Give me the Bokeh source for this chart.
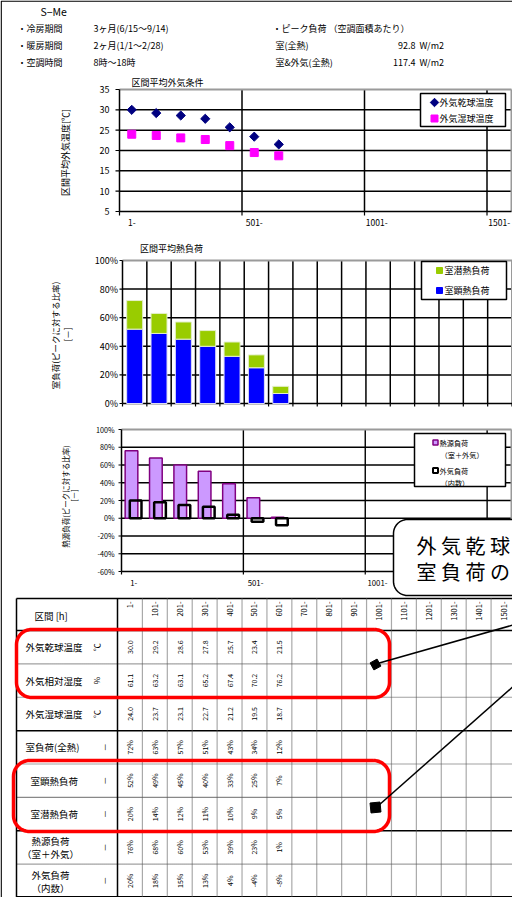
import numpy as np
from bokeh.plotting import figure
from bokeh.models import Range1d
from bokeh.core.properties import value
from bokeh.embed import file_html
from bokeh.resources import INLINE

# ---------------- data ----------------
interval_labels = ["1-", "101-", "201-", "301-", "401-", "501-", "601-", "701-",
                   "801-", "901-", "1001-", "1101-", "1201-", "1301-", "1401-", "1501-"]
interval_start = [0, 100, 200, 300, 400, 500, 600]          # hours (start of each 100 h bin)
dry_bulb = [30.0, 29.2, 28.6, 27.8, 25.7, 23.4, 21.5]       # ℃
rel_humidity = [61.1, 63.2, 63.1, 65.2, 67.4, 70.2, 76.2]   # %
wet_bulb = [24.0, 23.7, 23.1, 22.7, 21.2, 19.5, 18.7]       # ℃
room_total = [72, 63, 57, 51, 43, 34, 12]                   # % of peak
room_sensible = [52, 49, 45, 40, 33, 25, 7]
room_latent = [20, 14, 12, 11, 10, 9, 5]
source_load = [76, 68, 60, 53, 39, 23, 1]
outdoor_load = [20, 18, 15, 13, 4, -4, -8]
temp_ticks = [5, 10, 15, 20, 25, 30, 35]
room_ticks = [0, 20, 40, 60, 80, 100]
source_ticks = [-60, -40, -20, 0, 20, 40, 60, 80, 100]
hour_ticks = [0, 500, 1000, 1500]
hour_tick_labels = ["1-", "501-", "1001-", "1501-"]
peak_room = 92.8
peak_room_oa = 117.4
row_names = ["外気乾球温度", "外気相対湿度", "外気湿球温度", "室負荷(全熱)",
             "室顕熱負荷", "室潜熱負荷", "熱源負荷|（室＋外気）", "外気負荷|（内数）"]
row_units = ["℃", "%", "℃", "－", "－", "－", "－", "－"]

JP = value("Noto Sans CJK JP")
PX0, PX1, PY0, PY1 = 8, 520, 8, 905

p = figure(width=PX1 - PX0, height=PY1 - PY0,
           x_range=Range1d(PX0, PX1), y_range=Range1d(PY1, PY0),
           x_axis_type=None, y_axis_type=None, output_backend="svg",
           toolbar_location=None, min_border=0)
p.outline_line_color = None
p.background_fill_color = "white"
p.border_fill_color = "white"


def lin(d0, p0, d1, p1, lo, hi):
    k = (d1 - d0) / (p1 - p0)
    return Range1d(start=d0 + (lo - p0) * k, end=d0 + (hi - p0) * k)


def xr(d0, p0, d1, p1):
    return lin(d0, p0, d1, p1, PX0, PX1)


def yr(d0, p0, d1, p1):
    return lin(d0, p0, d1, p1, PY1, PY0)


p.extra_x_ranges = {"c1x": xr(0, 127, 1600, 519), "c2x": xr(0, 130, 1600, 519.5),
                    "c3x": xr(0, 129, 1600, 519), "tx": xr(0, 125, 16, 523.5)}
p.extra_y_ranges = {"c1y": yr(5, 219, 35, 97), "c2y": yr(0, 411, 100, 268),
                    "c3y": yr(-60, 579, 100, 437), "ty": yr(0, 638, 8, 905)}
k1x, k1y = 1600 / (519 - 127), 30 / (219 - 97)
k2x, k2y = 1600 / (519.5 - 130), 100 / (411 - 268)
k3x, k3y = 1600 / (519 - 129), 160 / (579 - 437)


def _bc(*args):
    n = max(len(a) if isinstance(a, (list, tuple)) else 1 for a in args)
    return [list(a) if isinstance(a, (list, tuple)) else [a] * n for a in args]


def seg(x0, y0, x1, y1, xn="default", yn="default", color="black", w=1.0, dash="solid"):
    x0, y0, x1, y1 = _bc(x0, y0, x1, y1)
    p.segment(x0=x0, y0=y0, x1=x1, y1=y1, x_range_name=xn, y_range_name=yn,
              line_color=color, line_width=w, line_dash=dash)


def txt(x, y, s, size, xn="default", yn="default", align="left", angle=0.0,
        color="black", base="middle"):
    x, y, s = _bc(x, y, s)
    p.text(x=x, y=y, text=s, x_range_name=xn, y_range_name=yn, text_font=JP,
           text_font_size=value(f"{size}px"), text_align=align, text_baseline=base,
           angle=angle, text_color=color)


def rrect(x0, y0, x1, y1, r, n=14):
    xs, ys = [], []
    for cx, cy, a0 in [(x1 - r, y0 + r, -90), (x1 - r, y1 - r, 0),
                       (x0 + r, y1 - r, 90), (x0 + r, y0 + r, 180)]:
        for a in np.linspace(a0, a0 + 90, n):
            xs.append(cx + r * np.cos(np.radians(a)))
            ys.append(cy + r * np.sin(np.radians(a)))
    xs.append(xs[0]); ys.append(ys[0])
    return xs, ys


GRAY = "#9a9a9a"
VPI = np.pi / 2

# ---------------- header ----------------
txt(48, 19, "S−Me", 10.5)
txt(25, 36, "・冷房期間", 9); txt(101, 36, "3ヶ月(6/15～9/14)", 9)
txt(25, 53, "・暖房期間", 9); txt(101, 53, "2ヶ月(1/1～2/28)", 9)
txt(25, 70, "・空調時間", 9); txt(101, 70, "8時～18時", 9)
txt(280, 36, "・ピーク負荷 （空調面積あたり）", 9)
txt(283, 53, "室(全熱)", 9); txt(423, 53, f"{peak_room:.1f}", 9, align="right"); txt(427, 53, "W/m2", 9)
txt(283, 70, "室&外気(全熱)", 9); txt(423, 70, f"{peak_room_oa:.1f}", 9, align="right"); txt(427, 70, "W/m2", 9)

# ---------------- chart 1: outdoor temperatures ----------------
c1 = dict(xn="c1x", yn="c1y")
seg(0, temp_ticks[1:-1], 1600, temp_ticks[1:-1], w=1.5, **c1)
seg(hour_ticks[1:], 5, hour_ticks[1:], 35, w=1.5, **c1)
seg(0, 35, 1600, 35, color=GRAY, w=2, **c1)
seg(1600, 5, 1600, 35, color=GRAY, w=2, **c1)
seg(0, 5, 0, 35, w=1.5, **c1)
seg(0, 5, 1600, 5, w=1.5, **c1)
seg(0, temp_ticks, -4 * k1x, temp_ticks, w=1.2, **c1)
seg(hour_ticks, 5, hour_ticks, 5 - 4 * k1y, w=1.2, **c1)
txt(-10 * k1x, temp_ticks, [str(t) for t in temp_ticks], 9, align="right", **c1)
txt([t + 50 for t in hour_ticks], 5 - 11 * k1y, hour_tick_labels, 8.5, align="center", **c1)
mid = [s + 50 for s in interval_start]
p.scatter(mid, wet_bulb, marker="square", size=8, fill_color="#FF00FF", line_color="#FF00FF",
          x_range_name="c1x", y_range_name="c1y")
p.scatter(mid, dry_bulb, marker="square", angle=np.pi / 4, size=6.5, fill_color="#000080",
          line_color="#000080", x_range_name="c1x", y_range_name="c1y")
txt(175, 90, "区間平均外気条件", 9, align="center")
txt(73, 160, "区間平均外気温度[℃]", 9, align="center", angle=VPI)
p.quad(left=428, right=513, top=101, bottom=134, fill_color="white", line_color="black", line_width=1.5)
p.scatter([442], [110], marker="square", angle=np.pi / 4, size=6, fill_color="#000080", line_color="#000080")
p.scatter([442], [126], marker="square", size=7, fill_color="#FF00FF", line_color="#FF00FF")
txt(447, 110, "外気乾球温度", 9)
txt(447, 126, "外気湿球温度", 9)

# ---------------- chart 2: room load ----------------
c2 = dict(xn="c2x", yn="c2y")
cat_edges = list(range(0, 1700, 100))
seg(cat_edges[1:-1], 0, cat_edges[1:-1], 100, w=1.5, **c2)
seg(0, room_ticks[1:-1], 1600, room_ticks[1:-1], w=1.5, **c2)
seg(0, 100, 1600, 100, color=GRAY, w=2, **c2)
seg(1600, 0, 1600, 100, color=GRAY, w=2, **c2)
seg(0, 0, 0, 100, w=1.5, **c2)
seg(0, 0, 1600, 0, w=1.5, **c2)
seg(0, room_ticks, -3 * k2x, room_ticks, w=1.2, **c2)
seg(cat_edges, 0, cat_edges, -3 * k2y, w=1.2, **c2)
txt(-4.5 * k2x, room_ticks, [f"{t}%" for t in room_ticks], 9, align="right", **c2)
room_top = [s + l for s, l in zip(room_sensible, room_latent)]
p.vbar(x=mid, width=16 * k2x, bottom=0, top=room_sensible, fill_color="#0000FF",
       line_color="#dcdcf4", line_width=1, x_range_name="c2x", y_range_name="c2y")
p.vbar(x=mid, width=16 * k2x, bottom=room_sensible, top=room_top, fill_color="#99CC00",
       line_color="#e4efcc", line_width=1, x_range_name="c2x", y_range_name="c2y")
txt(179, 256, "区間平均熱負荷", 9, align="center")
txt(62, 343, "室負荷(ピークに対する比率)", 8.5, align="center", angle=VPI)
txt(74, 342, "[－]", 8.5, align="center", angle=VPI)
p.quad(left=429, right=514, top=269, bottom=307, fill_color="white", line_color="black", line_width=1.5)
p.scatter([447], [278], marker="square", size=6, fill_color="#99CC00", line_color="#99CC00")
p.scatter([447], [298], marker="square", size=6, fill_color="#0000FF", line_color="#0000FF")
txt(452, 278, "室潜熱負荷", 9)
txt(452, 298, "室顕熱負荷", 9)

# ---------------- chart 3: source load ----------------
c3 = dict(xn="c3x", yn="c3y")
seg(0, source_ticks[1:-1], 1600, source_ticks[1:-1], w=1.3, **c3)
seg(hour_ticks[1:], -60, hour_ticks[1:], 100, w=1.4, **c3)
seg(0, 100, 1600, 100, color=GRAY, w=2, **c3)
seg(1600, -60, 1600, 100, color=GRAY, w=2, **c3)
seg(0, -60, 0, 100, w=1.5, **c3)
seg(0, -60, 1600, -60, w=1.5, **c3)
seg(0, source_ticks, -3 * k3x, source_ticks, w=1.2, **c3)
seg(hour_ticks, -60, hour_ticks, -60 - 3 * k3y, w=1.2, **c3)
txt(-7 * k3x, source_ticks, [f"{t}%" for t in source_ticks], 7.2, align="right", **c3)
txt([t + 50 for t in hour_ticks[:3]], -60 - 11 * k3y, hour_tick_labels[:3], 7.8, align="center", **c3)
p.vbar(x=[s + 41 for s in interval_start], width=52, bottom=0, top=source_load,
       fill_color="#CC99FF", line_color="#800080", line_width=1.5,
       x_range_name="c3x", y_range_name="c3y")
p.vbar(x=[s + 58 for s in interval_start], width=48, bottom=0, top=outdoor_load,
       fill_color=None, line_color="black", line_width=2.5,
       x_range_name="c3x", y_range_name="c3y")
txt(73, 504, "熱源負荷(ピークに対する比率)", 7.5, align="center", angle=VPI)
txt(81, 503, "[－]", 7.5, align="center", angle=VPI)
p.quad(left=422, right=513, top=441, bottom=494, fill_color="white", line_color="black", line_width=1.5)
p.scatter([443], [450], marker="square", size=5, fill_color="#CC99FF", line_color="#800080", line_width=1.5)
p.scatter([443], [478], marker="square", size=5, fill_color="white", line_color="black", line_width=2)
txt(447, 450, "熱源負荷", 7.2)
txt(448, 462, "（室＋外気）", 7.2)
txt(447, 478, "外気負荷", 7.2)
txt(448, 490, "（内数）", 7.2)

# callout box
cx, cy = rrect(401, 527, 570, 603, 14)
p.patch(cx, cy, fill_color="white", line_color="black", line_width=1.5)
txt(424, 553, "外 気 乾 球", 20)
txt(424, 579, "室 負 荷 の", 20)

# ---------------- table ----------------
row_styles = [("black", 1.5, "solid"), ("#444444", 1.2, "1 1"), ("#444444", 1.2, "1 1"),
              ("black", 1.5, "solid"), ("#444444", 1.2, "1 1"), ("#888888", 1.3, "solid"),
              ("black", 1.5, "solid"), ("#444444", 1.2, "1 1")]
for k, (col, w, d) in enumerate(row_styles):
    seg(24, k, 528, k, yn="ty", color=col, w=w, dash=d)
seg(24, 606, 528, 606, w=1.5)
seg(24, 904.2, 528, 904.2, w=1.6)
seg(24, 606, 24, 905, w=1.5)
seg(0, 606, 0, 905, xn="tx", w=1.5)
seg(list(range(1, 17)), 606, list(range(1, 17)), 905, xn="tx", color="#555555", w=1.2, dash="1 1")

# red highlight frames
for (x0, y0, x1, y1, r) in [(24, 637, 397, 705, 15), (21, 768, 397, 839, 16)]:
    hx, hy = rrect(x0, y0, x1, y1, r)
    p.line(hx, hy, line_color="#FF0000", line_width=3.5)

# header row
txt(42, 623, "区間 [h]", 9.5)
txt([c + 0.5 for c in range(16)], 609, interval_labels, 7.5, xn="tx", align="right", angle=VPI)

table_values = [[f"{v:.1f}" for v in dry_bulb], [f"{v:.1f}" for v in rel_humidity],
                [f"{v:.1f}" for v in wet_bulb], [f"{v}%" for v in room_total],
                [f"{v}%" for v in room_sensible], [f"{v}%" for v in room_latent],
                [f"{v}%" for v in source_load], [f"{v}%" for v in outdoor_load]]
for r, vals in enumerate(table_values):
    txt([c + 0.5 for c in range(len(vals))], r + 0.5, vals, 7, xn="tx", yn="ty",
        align="center", angle=VPI)

for r, (name, unit) in enumerate(zip(row_names, row_units)):
    if "|" in name:
        a, b = name.split("|")
        txt(58, r + 0.32, a, 9.5, yn="ty", align="center")
        txt(58, r + 0.71, b, 9.5, yn="ty", align="center")
    elif r in (4, 5):
        txt(38, r + 0.5, name, 9.5, yn="ty")
    else:
        txt(33, r + 0.5, name, 9.5, yn="ty")
    txt(112 if unit == "－" else 104, r + 0.5, unit, 8, yn="ty", align="center", angle=VPI)

# pointer arrows from the callout
p.line([540, 385], [627, 671], line_color="black", line_width=1.5)
p.scatter([383], [672], marker="square", size=8, angle=0.5, fill_color="black", line_color="black")
p.line([540, 386], [677, 813], line_color="black", line_width=1.5)
p.scatter([383], [815], marker="square", size=10, angle=0.1, fill_color="black", line_color="black")

# page frame
p.line([8.7, 8.7, 530], [910, 8.7, 8.7], line_color="black", line_width=1.3)

open("out.html", "w").write(file_html(p, INLINE))
